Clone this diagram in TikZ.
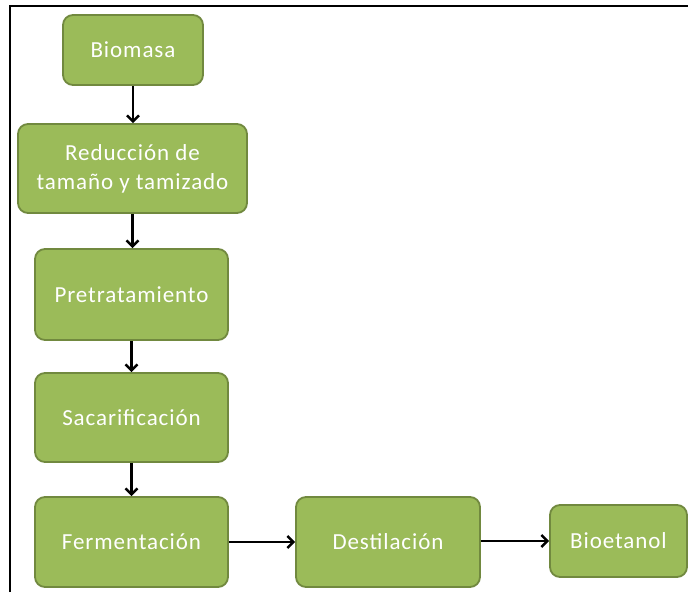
\documentclass[tikz,border=0pt]{standalone}
\usepackage{fontspec}
\setmainfont{Carlito}[LetterSpace=4]
\usetikzlibrary{arrows.meta}
\definecolor{boxfill}{HTML}{9BBB59}
\definecolor{boxedge}{HTML}{71893F}
\tikzset{
  stepbox/.style={draw=boxedge, line width=1.8pt, fill=boxfill, rounded corners=10pt,
    text=white, font=\fontsize{23}{29}\selectfont, align=center, inner sep=0pt},
  flow/.style={line width=2.4pt, -{Straight Barb[length=6pt,width=12pt,line width=2.4pt]}}
}
\begin{document}
\begin{tikzpicture}[x=1pt,y=1pt]
\useasboundingbox (0,0) rectangle (688,592);
\fill[white] (0,0) rectangle (688,592);
\draw[line width=2.2pt] (10,0) -- (10,586) -- (688,586);
\node[stepbox, minimum width=140pt, minimum height=70pt] (bio) at (133,542) {Biomasa};
\node[stepbox, minimum width=229pt, minimum height=89pt] (red) at (132.5,423.5) {Reducción de\\tamaño y tamizado};
\node[stepbox, minimum width=193pt, minimum height=91pt] (pre) at (131.5,297.5) {Pretratamiento};
\node[stepbox, minimum width=193pt, minimum height=89pt] (sac) at (131.5,174.5) {Sacarificación};
\node[stepbox, minimum width=193pt, minimum height=90pt] (fer) at (131.5,50) {Fermentación};
\node[stepbox, minimum width=184pt, minimum height=90pt] (des) at (388,50) {Destilación};
\node[stepbox, minimum width=137pt, minimum height=72pt] (bet) at (618.5,51) {Bioetanol};
\draw[flow] (bio.south) -- (bio.south |- red.north);
\draw[flow] (red.south) -- (red.south |- pre.north);
\draw[flow] (pre.south) -- (pre.south |- sac.north);
\draw[flow] (sac.south) -- (sac.south |- fer.north);
\draw[flow] (fer.east) -- (des.west);
\draw[flow] (des.east |- bet.west) -- (bet.west);
\end{tikzpicture}
\end{document}
